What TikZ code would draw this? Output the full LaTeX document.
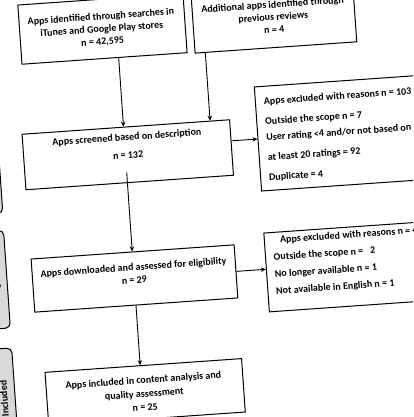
\documentclass[tikz,border=0pt]{standalone}
\usepackage{fontspec}
\setmainfont{Carlito}
\usetikzlibrary{arrows.meta,calc}
\begin{document}
\begin{tikzpicture}[x=1pt,y=1pt,
  box/.style={draw, line width=1pt, fill=white, inner sep=0pt},
  txt/.style={font=\bfseries\fontsize{10}{12.5}\selectfont, inner sep=0pt, align=center},
  lab/.style={draw, line width=1pt, fill=black!15, rounded corners=5pt, inner sep=0pt,
              rotate=90, font=\bfseries\fontsize{10}{12}\selectfont},
  arr/.style={line width=0.9pt, -{Stealth[length=5pt,width=4.5pt]}}]
\useasboundingbox (0,0) rectangle (413,417);
\clip (0,0) rectangle (413,417);
\begin{scope}[transform canvas={rotate around={4:(206.5,208.5)}}]
  % stage labels
  \node[lab, minimum width=112pt, minimum height=22pt] (l1) at (-8,274) {Screening};
  \node[lab, minimum width=98pt, minimum height=22pt] (l2) at (-8.5,152) {Eligibility};
  \node[lab, minimum width=100pt, minimum height=22pt] (l3) at (-8.6,33) {Included};
  % boxes
  \node[box, minimum width=165.5pt, minimum height=59.3pt] (b1) at (115.25,394.95) {};
  \node[box, minimum width=162pt, minimum height=60.3pt] (b2) at (287,394.45) {};
  \node[box, minimum width=208pt, minimum height=55.6pt] (b3) at (131.7,267.6) {};
  \node[box, minimum width=180.3pt, minimum height=104.3pt] (b4) at (352.85,274.25) {};
  \node[box, minimum width=203.5pt, minimum height=53.2pt] (b5) at (129.75,143.7) {};
  \node[box, minimum width=181pt, minimum height=79pt] (b6) at (352.5,140.5) {};
  \node[box, minimum width=197pt, minimum height=53.5pt] (b7) at (132.5,29.55) {};
  % texts
  \node[txt] (t1) at (114.5,394.5) {Apps identified through searches in\\iTunes and Google Play stores\\n = 42,595};
  \node[txt] (t2) at (286.5,395) {Additional apps identified through\\previous reviews\\n = 4};
  \node[txt, font=\bfseries\fontsize{10}{18}\selectfont] (t3) at (132,276.4) {Apps screened based on description\\n = 132};
  \node[txt, align=left, anchor=west, font=\bfseries\fontsize{10}{20}\selectfont] (t4) at (271,272.8)
    {Apps excluded with reasons n = 103\\Outside the scope n = 7\\[-4pt]User rating <4 and/or not based on\\at least 20 ratings = 92\\Duplicate = 4};
  \node[txt, font=\bfseries\fontsize{10}{13}\selectfont] (t5) at (129.5,148.7) {Apps downloaded and assessed for eligibility\\n = 29};
  \node[txt, align=left, anchor=west, font=\bfseries\fontsize{10}{17}\selectfont] (t6) at (270,146.2)
    {\hspace*{7.6pt}Apps excluded with reasons n = 4\\Outside the scope n =\hspace{7pt}2\\No longer available n = 1\\Not available in English n = 1};
  \node[txt, font=\bfseries\fontsize{10}{13.6}\selectfont] (t7) at (131.5,28.2) {Apps included in content analysis and\\quality assessment\\n = 25};
  % connectors
  \coordinate (col) at (129.4,0);
  \coordinate (col2) at (216.2,0);
  \draw[arr] (b1.south -| col) -- (b3.north -| col);
  \draw[arr] (b2.south -| col2) -- (b3.north -| col2);
  \draw[arr] (b3.east |- b4.west) -- (b4.west);
  \draw[arr] ($(b3.south -| col)+(0,10.7)$) -- (b5.north -| col);
  \draw[arr] (b5.east) -- (b5.east -| b6.west);
  \draw[arr] (b5.south -| col) -- (b7.north -| col);
\end{scope}
\end{tikzpicture}
\end{document}
